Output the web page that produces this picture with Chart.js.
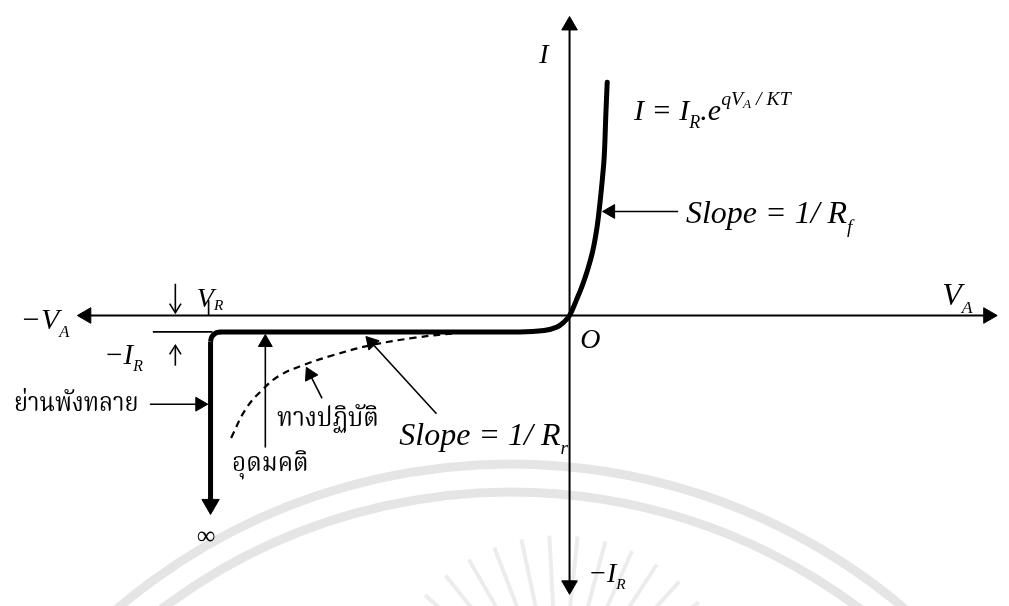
<!DOCTYPE html>
<html>
<head>
<meta charset="utf-8">
<script src="https://cdn.jsdelivr.net/npm/chart.js@4.4.1/dist/chart.umd.min.js"></script>
<style>
  html, body { margin: 0; background: #fff; }
  #wrap { width: 1009px; height: 606px; }
</style>
</head>
<body>
<div id="wrap"><canvas id="diode" width="1009" height="606"></canvas></div>
<script>
// Diode I-V characteristic. Units are arbitrary: V_A across, I up, origin at O.
const vRange = [-11.42, 8.76];
const iRange = [-5.80, 6.32];
const PX = 50; // pixels per unit on both axes at 1009x606

// reverse-saturation flat, knee through O and the forward exponential
const idealCurve = [
  [-7.14, -0.34], [-1.02, -0.34], [-0.52, -0.31], [-0.26, -0.24], [-0.12, -0.14],
  [0, 0], [0.14, 0.32], [0.26, 0.62], [0.36, 0.92], [0.47, 1.32], [0.56, 1.82],
  [0.62, 2.32], [0.67, 2.82], [0.71, 3.32], [0.74, 4.12], [0.77, 4.84]
];
// rounded knee into breakdown
const kneeCurve = [[-7.14, -0.34], [-7.24, -0.367], [-7.313, -0.44], [-7.34, -0.54]];
// practical reverse curve (dashed)
const practicalCurve = [
  [-6.92, -2.54], [-6.62, -1.94], [-6.28, -1.54], [-5.92, -1.24], [-5.42, -1.02],
  [-4.82, -0.82], [-4.08, -0.62], [-3.16, -0.46], [-2.28, -0.36]
];

// arrows: tail -> tip, filled heads
const axisArrows = [
  { tail: [0, 0], tip: [-10.06, 0] }, { tail: [0, 0], tip: [8.74, 0] },
  { tail: [0, 0], tip: [0, 6.2] }, { tail: [0, 0], tip: [0, -5.78] }
];
const breakdownArrow = { tail: [-7.34, -0.54], tip: [-7.34, -4.12] };
const pointerArrows = [
  { tail: [2.22, 2.16], tip: [0.68, 2.16] },      // Slope = 1/Rf
  { tail: [-2.72, -2.04], tip: [-4.16, -0.44] },  // Slope = 1/Rr
  { tail: [-5.06, -1.72], tip: [-5.38, -1.08] },  // practical
  { tail: [-6.22, -2.74], tip: [-6.22, -0.40] },  // ideal
  { tail: [-8.58, -1.84], tip: [-7.40, -1.84] }   // breakdown region
];
// open-headed markers for V_R / -I_R
const markerArrows = [
  { tail: [-8.06, 0.66], tip: [-8.06, 0.06] },
  { tail: [-8.06, -1.04], tip: [-8.06, -0.62] }
];
const vrTick = [[-7.38, 0.32], [-7.38, 0]];
const irLevel = [[-8.52, -0.34], [-7.30, -0.34]];

const MATH = '"Liberation Serif", "DejaVu Serif", serif';
const THAI = '"Noto Serif Thai", "Noto Sans Thai Looped", Loma, Garuda, Kinnari, "Noto Sans Thai", sans-serif';
const labels = [
  { at: [-0.62, 5.24], size: 28, parts: [{ t: 'I' }] },
  { at: [1.32, 4.06], size: 30, parts: [
    { t: 'I = I' }, { t: 'R', s: 0.6, dy: -0.28 }, { t: '.e' },
    { t: 'qV', s: 0.66, dy: 0.5 }, { t: 'A', s: 0.44, dy: 0.38 }, { t: ' / KT', s: 0.66, dy: 0.5 }] },
  { at: [2.38, 1.92], size: 32, parts: [{ t: 'Slope = 1/ R' }, { t: 'f', s: 0.6, dy: -0.3 }] },
  { at: [7.62, 0.22], size: 32, parts: [{ t: 'V' }, { t: 'A', s: 0.55, dy: -0.25 }] },
  { at: [-11.22, -0.28], size: 30, parts: [{ t: '\u2212V' }, { t: 'A', s: 0.55, dy: -0.25 }] },
  { at: [-7.62, 0.18], size: 28, parts: [{ t: 'V' }, { t: 'R', s: 0.55, dy: -0.12 }] },
  { at: [-9.52, -1.0], size: 29, parts: [{ t: '\u2212I' }, { t: 'R', s: 0.55, dy: -0.25 }] },
  { at: [0.22, -0.68], size: 28, parts: [{ t: 'O' }] },
  { at: [-7.62, -4.74], size: 26, italic: false, parts: [{ t: '\u221E' }] },
  { at: [0.38, -5.54], size: 28, parts: [{ t: '\u2212I' }, { t: 'R', s: 0.55, dy: -0.25 }] },
  { at: [-3.48, -2.68], size: 32, parts: [{ t: 'Slope = 1/ R' }, { t: 'r', s: 0.6, dy: -0.3 }] },
  { at: [-5.98, -2.3], size: 27, sx: 0.9, font: THAI, italic: false, parts: [{ t: 'ทางปฏิบัติ' }] },
  { at: [-6.9, -3.22], size: 27, sx: 0.9, font: THAI, italic: false, parts: [{ t: 'อุดมคติ' }] },
  { at: [-11.36, -1.98], size: 27, sx: 0.87, font: THAI, italic: false, parts: [{ t: 'ย่านพังทลาย' }] }
];

function pt(p) { return { x: p[0], y: p[1] }; }

function lineSet(points, width, extra) {
  return Object.assign({
    data: points.map(pt), showLine: true, borderColor: '#000', borderWidth: width,
    pointRadius: 0, fill: false, tension: 0
  }, extra || {});
}

// filled head: triangle point centred one radius behind the tip
function headFor(a, r) {
  const dx = a.tip[0] - a.tail[0], dy = a.tip[1] - a.tail[1];
  const len = Math.hypot(dx, dy);
  const c = [a.tip[0] - dx / len * r / PX, a.tip[1] - dy / len * r / PX];
  return { center: c, rot: Math.atan2(dx, dy) * 180 / Math.PI, r };
}

const datasets = [];
const heads = [];

function addArrow(a, r, width) {
  const h = headFor(a, r);
  datasets.push(lineSet([a.tail, h.center], width));
  heads.push(h);
}

axisArrows.forEach(a => addArrow(a, 9, 2));
pointerArrows.forEach(a => addArrow(a, 8, 1.6));
addArrow(breakdownArrow, 10, 5);

markerArrows.forEach(a => {
  const dx = a.tip[0] - a.tail[0], dy = a.tip[1] - a.tail[1];
  const len = Math.hypot(dx, dy), ux = dx / len, uy = dy / len;
  const w = 11 / PX, ang = 32 * Math.PI / 180;
  const wing = s => [a.tip[0] - w * (ux * Math.cos(ang) - s * uy * Math.sin(ang)),
                     a.tip[1] - w * (uy * Math.cos(ang) + s * ux * Math.sin(ang))];
  datasets.push(lineSet([a.tail, a.tip], 1.6));
  datasets.push(lineSet([wing(1), a.tip, wing(-1)], 1.6));
});

datasets.push(lineSet(vrTick, 1.6));
datasets.push(lineSet(irLevel, 1.6));
datasets.push(lineSet(practicalCurve, 2.2, { borderDash: [7, 5], tension: 0.4 }));
datasets.push(lineSet(idealCurve, 5, { tension: 0.4, borderCapStyle: 'round' }));
datasets.push(lineSet(kneeCurve, 5, { tension: 0.4, borderJoinStyle: 'round' }));

datasets.push({
  data: heads.map(h => pt(h.center)),
  showLine: false,
  pointStyle: 'triangle',
  pointRadius: heads.map(h => h.r),
  pointRotation: heads.map(h => h.rot),
  backgroundColor: '#000',
  borderColor: '#000',
  borderWidth: 1
});

// faint seal in the lower half of the page
const sealRings = [12.16, 11.6];
const sealCenter = [-1.2, -15.7];
const rayCenter = [-0.22, -8.3];

const backdrop = {
  id: 'backdrop',
  beforeDatasetsDraw(chart) {
    const { ctx, scales: { x, y } } = chart;
    ctx.save();
    ctx.strokeStyle = 'rgba(160,160,160,0.28)';
    ctx.lineWidth = 9;
    const cx = x.getPixelForValue(sealCenter[0]), cy = y.getPixelForValue(sealCenter[1]);
    sealRings.forEach(r => {
      ctx.beginPath();
      ctx.arc(cx, cy, r * PX, Math.PI * 1.05, Math.PI * 1.95);
      ctx.stroke();
    });
    ctx.lineWidth = 4;
    ctx.strokeStyle = 'rgba(160,160,160,0.2)';
    const rx = x.getPixelForValue(rayCenter[0]), ry = y.getPixelForValue(rayCenter[1]);
    for (let a = -165; a <= -15; a += 9) {
      const t = a * Math.PI / 180;
      ctx.beginPath();
      ctx.moveTo(rx + Math.cos(t) * 1.9 * PX, ry + Math.sin(t) * 1.9 * PX);
      ctx.lineTo(rx + Math.cos(t) * 3.6 * PX, ry + Math.sin(t) * 3.6 * PX);
      ctx.stroke();
    }
    ctx.restore();
  },
  afterDatasetsDraw(chart) {
    const { ctx, scales: { x, y } } = chart;
    ctx.fillStyle = '#000';
    ctx.textBaseline = 'alphabetic';
    labels.forEach(l => {
      const sx = l.sx || 1;
      let px = 0;
      const italic = l.italic === false ? '' : 'italic ';
      ctx.save();
      ctx.translate(x.getPixelForValue(l.at[0]), y.getPixelForValue(l.at[1]));
      ctx.scale(sx, 1);
      l.parts.forEach(p => {
        const s = l.size * (p.s || 1);
        ctx.font = italic + s + 'px ' + (l.font || MATH);
        ctx.fillText(p.t, px, -(p.dy || 0) * l.size);
        px += ctx.measureText(p.t).width;
      });
      ctx.restore();
    });
  }
};

new Chart(document.getElementById('diode'), {
  type: 'scatter',
  data: { datasets },
  options: {
    responsive: false,
    animation: false,
    devicePixelRatio: 1,
    layout: { padding: 0 },
    plugins: { legend: { display: false }, tooltip: { enabled: false } },
    scales: {
      x: { type: 'linear', min: vRange[0], max: vRange[1], display: false },
      y: { type: 'linear', min: iRange[0], max: iRange[1], display: false }
    }
  },
  plugins: [backdrop]
});
</script>
</body>
</html>
